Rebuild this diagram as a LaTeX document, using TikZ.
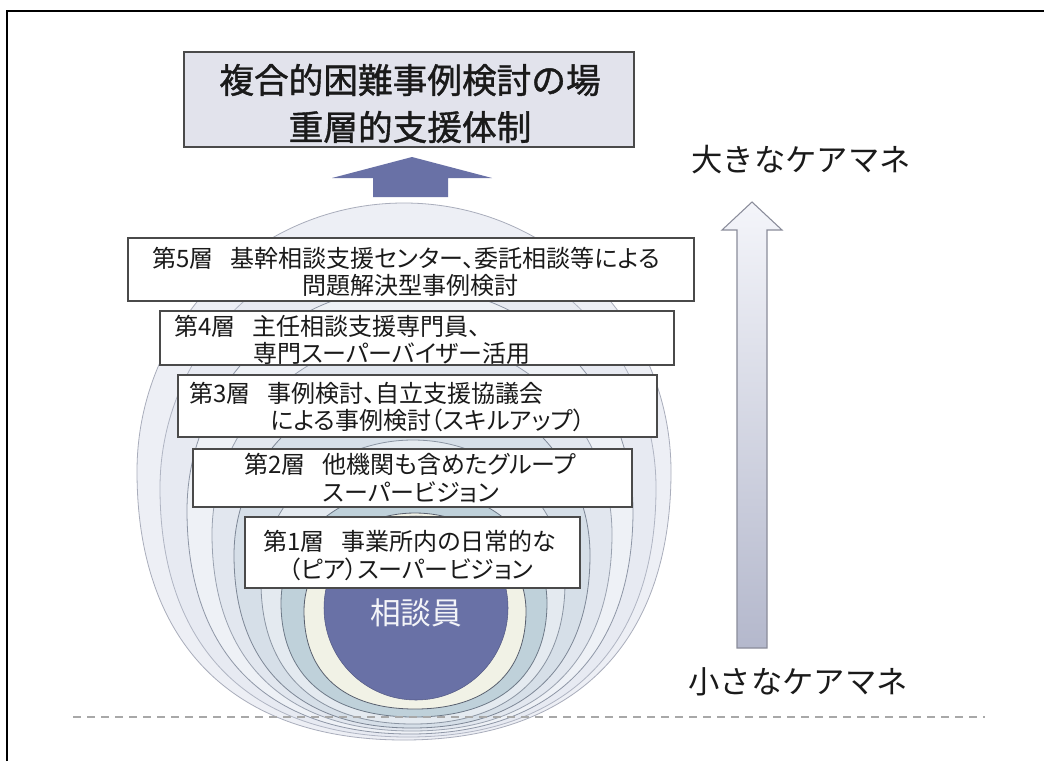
\documentclass[tikz,border=0pt]{standalone}
\usepackage{fontspec}
\newfontfamily\jp[CharacterWidth=AlternateProportional]{Noto Sans CJK JP}
\newfontfamily\jpf{Noto Sans CJK JP}
\newfontfamily\jpt[FakeBold=1.2]{Noto Sans CJK JP}
\definecolor{cA}{HTML}{EDEFF5}\definecolor{dA}{HTML}{A9ADBB}
\definecolor{cB}{HTML}{E7EAF2}\definecolor{dB}{HTML}{B0B5C3}
\definecolor{cC}{HTML}{EEF1F6}\definecolor{dC}{HTML}{8E96A6}
\definecolor{cD}{HTML}{E2E7EF}\definecolor{dD}{HTML}{9AA2B0}
\definecolor{cE}{HTML}{D6DFE8}\definecolor{dE}{HTML}{7D8796}
\definecolor{cF}{HTML}{E4EAF0}\definecolor{dF}{HTML}{8A94A2}
\definecolor{cG}{HTML}{BFD1DA}\definecolor{dG}{HTML}{6E7A88}
\definecolor{cH}{HTML}{F1F2E6}\definecolor{dH}{HTML}{59606E}
\definecolor{core}{HTML}{6971A6}
\definecolor{titlefill}{HTML}{E2E3EC}
\definecolor{boxedge}{HTML}{4A4A4A}
\definecolor{txt}{HTML}{1A1A1A}
\definecolor{arrTop}{HTML}{F4F5FA}
\definecolor{arrBot}{HTML}{B4B8CC}
\definecolor{arrEdge}{HTML}{8A8C9A}
\definecolor{dashc}{HTML}{A8A8A8}
\newcommand{\drawegg}[5]{%
  \pgfmathsetmacro{\eggm}{(#2+#3)/2}%
  \pgfmathsetmacro{\eggtu}{(\eggm-#2)*0.5523}%
  \pgfmathsetmacro{\eggtl}{(#3-\eggm)*0.64}%
  \pgfmathsetmacro{\eggwu}{#4*0.5523}%
  \pgfmathsetmacro{\eggwl}{#4*0.64}%
  \path[#5] (#1,#2) .. controls ({#1-\eggwu},#2) and ({#1-#4},{\eggm-\eggtu}) .. ({#1-#4},\eggm)
    .. controls ({#1-#4},{\eggm+\eggtl}) and ({#1-\eggwl},#3) .. (#1,#3)
    .. controls ({#1+\eggwl},#3) and ({#1+#4},{\eggm+\eggtl}) .. ({#1+#4},\eggm)
    .. controls ({#1+#4},{\eggm-\eggtu}) and ({#1+\eggwu},#2) .. (#1,#2) -- cycle;
}
\tikzset{
  layerbox/.style={draw=boxedge, line width=0.8pt, fill=white, inner sep=0pt},
  titlebox/.style={draw=boxedge, line width=1.1pt, fill=titlefill, inner sep=0pt},
  boxtext/.style={inner sep=0pt, text=txt, font=\jp\fontsize{18pt}{20pt}\selectfont},
  titletext/.style={inner sep=0pt, text=txt, font=\jpt\fontsize{26pt}{28pt}\selectfont},
  sidetext/.style={inner sep=0pt, text=txt, font=\jpf\fontsize{23.5pt}{25pt}\selectfont},
  layer/.style={fill=#1, line width=0.6pt}
}
\begin{document}
\begin{tikzpicture}[x=0.75pt, y=-0.75pt]
\useasboundingbox (0,0) rectangle (1044,761);
\fill[white] (0,0) rectangle (1044,761);
% frame (left and top edges)
\coordinate (fbl) at (7,761);
\coordinate (ftl) at (7,11);
\coordinate (ftr) at (1044,11);
\draw[line width=1.2pt, black] (fbl) -- (ftl) -- (ftr);

% nested layers
\drawegg{404}{203}{740}{267}{layer=cA, draw=dA}
\drawegg{408}{239}{737}{248}{layer=cB, draw=dB}
\drawegg{410}{287}{734}{223}{layer=cC, draw=dC}
\drawegg{412}{337}{731}{200}{layer=cD, draw=dD}
\drawegg{412}{382}{728}{178}{layer=cE, draw=dE}
\drawegg{413}{440}{724}{152}{layer=cF, draw=dF}
\drawegg{414}{488}{717}{133}{layer=cG, draw=dG}
\drawegg{415}{513}{709}{111}{layer=cH, draw=dH}
\node[circle, fill=core, draw=core!80!black, line width=0.4pt, minimum size=138pt, inner sep=0pt] (core) at (416,608) {};
\node[inner sep=0pt, text=white!92!core, font=\jpf\fontsize{23pt}{25pt}\selectfont] (coretext) at (416,613) {相談員};

% dashed ground line
\coordinate (gl) at (73,717);
\coordinate (gr) at (985,717);
\draw[dashc, line width=0.9pt, dash pattern=on 6pt off 4.5pt] (gl) -- (gr);

% title box
\node[titlebox, minimum width=337.5pt, minimum height=71.25pt] (title) at (409,99.5) {};
\node[titletext] (t1) at (410,80) {複合的困難事例検討の場};
\node[titletext] (t2) at (410,127) {重層的支援体制};

% solid up arrow
\fill[core] (373,197) -- (373,178) -- (332,178) -- (412,157) -- (492,178) -- (448,178) -- (448,197) -- cycle;

% layer boxes
\node[layerbox, minimum width=424.5pt, minimum height=47.25pt] (b5) at (411,269.5) {};
\node[boxtext, anchor=west] (b5a) at (152,258) {第5層\hspace{0.7em}基幹相談支援センター、委託相談等による};
\node[boxtext] (b5b) at (410,285) {問題解決型事例検討};

\node[layerbox, minimum width=385.5pt, minimum height=40.5pt] (b4) at (417,338) {};
\node[boxtext, anchor=west] (b4a) at (174,326) {第4層\hspace{0.7em}主任相談支援専門員、};
\node[boxtext, anchor=west] (b4b) at (253,353) {専門スーパーバイザー活用};

\node[layerbox, minimum width=359.25pt, minimum height=46.5pt] (b3) at (417.5,406) {};
\node[boxtext, anchor=west] (b3a) at (189,393) {第3層\hspace{0.7em}事例検討、自立支援協議会};
\node[boxtext, anchor=west] (b3b) at (270,420) {による事例検討（スキルアップ）};

\node[layerbox, minimum width=329.25pt, minimum height=43.5pt] (b2) at (412.5,478) {};
\node[boxtext, anchor=west] (b2a) at (244,464) {第2層\hspace{0.7em}他機関も含めたグループ};
\node[boxtext] (b2b) at (411,492) {スーパービジョン};

\node[layerbox, minimum width=251.25pt, minimum height=53.25pt] (b1) at (412.5,552.5) {};
\node[boxtext, anchor=west] (b1a) at (263,541) {第1層\hspace{0.7em}事業所内の日常的な};
\node[boxtext] (b1b) at (411,569) {（ピア）スーパービジョン};

% hollow scale arrow
\shadedraw[top color=arrTop, bottom color=arrBot, draw=arrEdge, line width=0.8pt]
  (737,648) -- (737,230) -- (722,230) -- (752,202) -- (782,230) -- (767,230) -- (767,648) -- cycle;
\node[sidetext] (big) at (801,160) {大きなケアマネ};
\node[sidetext] (small) at (798,682) {小さなケアマネ};
\end{tikzpicture}
\end{document}
